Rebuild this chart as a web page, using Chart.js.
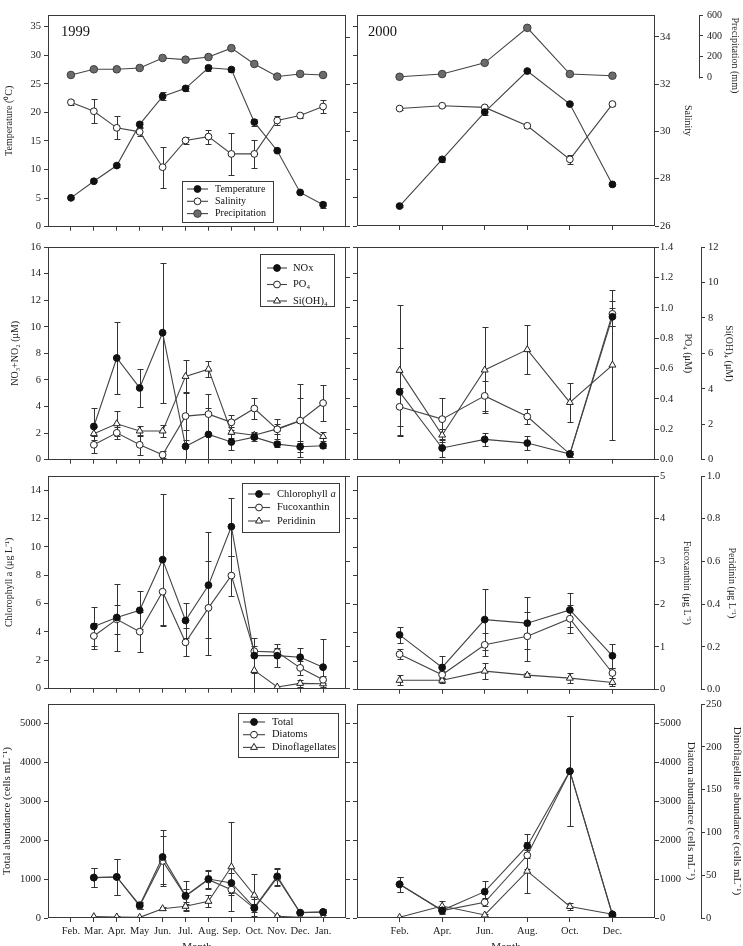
<!DOCTYPE html>
<html>
<head>
<meta charset="utf-8">
<script src="https://cdn.jsdelivr.net/npm/chart.js@4.4.0/dist/chart.umd.min.js"></script>
<style>
  body { margin: 0; background: #fff; overflow: hidden; width: 743px; height: 946px; position: relative; }
  canvas { position: absolute; }
</style>
</head>
<body>
<canvas id="c1l" width="352" height="231" style="left:0;top:5px"></canvas>
<canvas id="c1r" width="391" height="231" style="left:352px;top:5px"></canvas>
<canvas id="c2l" width="352" height="232" style="left:0;top:237px"></canvas>
<canvas id="c2r" width="391" height="232" style="left:352px;top:237px"></canvas>
<canvas id="c3l" width="352" height="232" style="left:0;top:466px"></canvas>
<canvas id="c3r" width="391" height="232" style="left:352px;top:466px"></canvas>
<canvas id="c4l" width="352" height="260" style="left:0;top:694px"></canvas>
<canvas id="c4r" width="391" height="260" style="left:352px;top:694px"></canvas>
<script>
// months sampled
const months1999 = ['Feb.', 'Mar.', 'Apr.', 'May', 'Jun.', 'Jul.', 'Aug.', 'Sep.', 'Oct.', 'Nov.', 'Dec.', 'Jan.'];
const months2000 = ['Feb.', 'Apr.', 'Jun.', 'Aug.', 'Oct.', 'Dec.'];

// temperature (C), salinity, precipitation (mm)
const temp1999 = [5.05, 7.95, 10.7, 17.9, 22.8, 24.2, 27.8, 27.5, 18.3, 13.3, 6.0, 3.85];
const temp1999Err = [0.2, 0.2, 0.3, 0.5, 0.7, 0.4, 0.5, 0.4, 0.6, 0.3, 0.3, 0.5];
const sal1999 = [31.25, 30.87, 30.17, 30.0, 28.51, 29.64, 29.8, 29.07, 29.07, 30.48, 30.69, 31.07];
const sal1999Err = [0.1, 0.5, 0.49, 0.17, 0.87, 0.14, 0.3, 0.9, 0.58, 0.2, 0.1, 0.28];
const prec1999 = [28, 82, 82, 95, 190, 174, 199, 284, 133, 13, 38, 28];

const temp2000 = [3.5, 11.7, 20.0, 27.2, 21.4, 7.3];
const temp2000Err = [0.2, 0.4, 0.5, 0.3, 0.2, 0.3];
const sal2000 = [30.97, 31.09, 31.02, 30.24, 28.82, 31.16];
const sal2000Err = [0.04, 0.05, 0.06, 0.08, 0.2, 0.1];
const prec2000 = [9, 35, 142, 477, 35, 19];

// nutrients (uM)
const nox1999 = [null, 2.5, 7.65, 5.4, 9.55, 1.0, 1.9, 1.33, 1.7, 1.17, 0.97, 1.05];
const nox1999Err = [null, 1.38, 2.7, 1.43, 5.25, 1.2, 2.0, 0.6, 0.3, 0.2, 0.4, 0.2];
const po41999 = [null, 0.098, 0.177, 0.098, 0.032, 0.287, 0.3, 0.246, 0.337, 0.2, 0.257, 0.373];
const po41999Err = [null, 0.055, 0.04, 0.065, 0.022, 0.16, 0.13, 0.05, 0.07, 0.065, 0.15, 0.12];
const si1999 = [null, 1.47, 2.03, 1.62, 1.62, 4.7, 5.11, 1.55, 1.38, 1.74, 2.2, 1.31];
const si1999Err = [null, 0.35, 0.7, 0.28, 0.34, 0.92, 0.45, 0.3, 0.2, 0.3, 2.06, 0.24];

const nox2000 = [5.1, 0.88, 1.53, 1.25, 0.43, 10.75];
const nox2000Err = [3.3, 0.67, 0.48, 0.5, 0.2, 0.68];
const po42000 = [0.348, 0.267, 0.42, 0.284, 0.037, 0.96];
const po42000Err = [0.127, 0.14, 0.1, 0.05, 0.02, 0.083];
const si2000 = [5.04, 1.39, 5.06, 6.21, 3.23, 5.34];
const si2000Err = [3.66, 0.37, 2.4, 1.39, 1.09, 4.24];

// pigments (ug/L)
const chl1999 = [null, 4.39, 5.02, 5.53, 9.1, 4.81, 7.3, 11.43, 2.33, 2.33, 2.22, 1.52];
const chl1999Err = [null, 1.4, 2.33, 1.35, 4.62, 1.21, 3.73, 2.05, 1.24, 0.82, 0.65, 1.96];
const fuco1999 = [null, 1.24, 1.63, 1.34, 2.28, 1.09, 1.9, 2.66, 0.88, 0.86, 0.49, 0.21];
const fuco1999Err = [null, 0.31, 0.34, 0.47, 0.8, 0.33, 1.11, 0.47, 0.12, 0.09, 0.16, 0.08];
const peri1999 = [null, null, null, null, null, null, null, null, 0.086, 0.008, 0.025, 0.023];
const peri1999Err = [null, null, null, null, null, null, null, null, 0.086, 0.005, 0.016, 0.016];

const chl2000 = [3.85, 1.56, 4.92, 4.67, 5.6, 2.38];
const chl2000Err = [0.54, 0.82, 2.12, 1.82, 1.21, 0.84];
const fuco2000 = [0.83, 0.35, 1.05, 1.25, 1.66, 0.39];
const fuco2000Err = [0.12, 0.08, 0.27, 0.57, 0.33, 0.12];
const peri2000 = [0.044, 0.044, 0.087, 0.068, 0.054, 0.034];
const peri2000Err = [0.023, 0.012, 0.037, 0.01, 0.023, 0.019];

// abundance (cells/mL)
const tot1999 = [null, 1038, 1055, 330, 1569, 575, 1003, 900, 266, 1072, 137, 154];
const tot1999Err = [null, 249, 472, 86, 686, 386, 232, 250, 214, 214, 43, 69];
const dia1999 = [null, 1038, 1055, 309, 1466, 557, 986, 729, 249, 1038, 137, 154];
const dia1999Err = [null, 249, 472, 86, 643, 200, 232, 150, 100, 214, 43, 69];
const din1999 = [null, 1.56, 1.17, 0.78, 10.9, 13.7, 19.5, 59.8, 26.6, 1.95, 0.78, 0.78];
const din1999Err = [null, 1, 1, 0.5, 2, 4.7, 7, 52, 25, 1, 0.5, 0.5];

const tot2000 = [866, 197, 677, 1852, 3773, 94];
const tot2000Err = [189, 86, 274, 317, 1415, 69];
const dia2000 = [866, 190, 403, 1612, 3773, 77];
const dia2000Err = [189, 60, 100, 343, 1415, 50];
const din2000 = [0.8, 14, 3.5, 54.7, 13.5, 4.3];
const din2000Err = [0.5, 5.5, 1, 25, 4, 1];

const SERIF = '"Liberation Serif", "Times New Roman", serif';
const INK = '#3a3a3a';
Chart.defaults.font.family = SERIF;
Chart.defaults.font.size = 10.5;
Chart.defaults.color = '#222';

const MARK = {
  black: { pointStyle: 'circle', pointRadius: 3.4, pointBackgroundColor: '#111', pointBorderColor: '#111' },
  white: { pointStyle: 'circle', pointRadius: 3.4, pointBackgroundColor: '#fff', pointBorderColor: '#222' },
  grey: { pointStyle: 'circle', pointRadius: 3.8, pointBackgroundColor: '#6b6b6b', pointBorderColor: '#3d3d3d' },
  tri: { pointStyle: 'triangle', pointRadius: 4, pointBackgroundColor: '#fff', pointBorderColor: '#222' }
};

function line(label, values, errors, mark, axis) {
  return Object.assign({
    label, yAxisID: axis, errors,
    data: values.map((v, i) => ({ x: i, y: v })),
    borderColor: '#444', borderWidth: 1.1, pointBorderWidth: 1, tension: 0
  }, MARK[mark]);
}

function xAx(labels, bottom) {
  return {
    type: 'linear', min: -1, max: labels.length,
    afterBuildTicks: s => { s.ticks = labels.map((_, i) => ({ value: i })); },
    afterFit: s => { s.height = bottom ? 36 : 8; },
    ticks: { display: bottom, autoSkip: false, maxRotation: 0, padding: 3, font: { size: 10.5 }, callback: v => labels[v] },
    grid: { drawOnChartArea: false, tickLength: 4, color: INK },
    border: { display: false },
    title: { display: bottom, text: 'Month', padding: 0, font: { size: 11 } }
  };
}

// tick values: explicit list, or multiples of step inside [min, max]
function tickList(o) {
  if (o.only) return o.only;
  const out = [];
  for (let k = Math.ceil(o.min / o.step); k * o.step <= o.max + 1e-9; k++) out.push(+(k * o.step).toFixed(6));
  return out;
}

function yAx(o) {
  const cfg = {
    type: 'linear', position: o.pos, min: o.min, max: o.max, display: !o.hidden,
    ticks: {
      display: !!o.labels, padding: o.tickPad ?? 3,
      font: { size: o.size || 10.5 }, callback: v => Number(v).toFixed(o.dec || 0)
    },
    grid: { drawOnChartArea: false, tickLength: 4, color: INK },
    border: { display: !!o.axisLine, color: INK, width: 1 },
    title: o.title
      ? { display: true, text: o.title, font: { size: o.tsize || 10 }, padding: { top: o.tpad || 0, bottom: 0 } }
      : { display: false }
  };
  if (!o.hidden) {
    cfg.afterFit = s => { s.width = o.w; };
    cfg.afterBuildTicks = s => { s.ticks = tickList(o).map(v => ({ value: v })); };
  }
  return cfg;
}

const frame = {
  id: 'frame',
  afterDraw(chart) {
    const { ctx, chartArea: a } = chart;
    ctx.save();
    ctx.strokeStyle = INK;
    ctx.lineWidth = 1;
    ctx.strokeRect(Math.round(a.left) + 0.5, Math.round(a.top) + 0.5,
      Math.round(a.right - a.left) - 1, Math.round(a.bottom - a.top) - 1);
    ctx.restore();
  }
};

const errorBars = {
  id: 'errorBars',
  beforeDatasetsDraw(chart) {
    const { ctx, chartArea: a } = chart;
    ctx.save();
    ctx.beginPath();
    ctx.rect(a.left, a.top, a.right - a.left, a.bottom - a.top);
    ctx.clip();
    ctx.strokeStyle = '#333';
    ctx.lineWidth = 1;
    chart.data.datasets.forEach((ds, di) => {
      if (!ds.errors) return;
      const meta = chart.getDatasetMeta(di);
      const ys = chart.scales[ds.yAxisID];
      ds.data.forEach((p, i) => {
        const e = ds.errors[i];
        if (p.y == null || !e) return;
        const x = Math.round(meta.data[i].x) + 0.5;
        const y1 = Math.round(ys.getPixelForValue(p.y + e)) + 0.5;
        const y2 = Math.round(ys.getPixelForValue(p.y - e)) + 0.5;
        ctx.beginPath();
        ctx.moveTo(x, y1); ctx.lineTo(x, y2);
        ctx.moveTo(x - 3, y1); ctx.lineTo(x + 3, y1);
        ctx.moveTo(x - 3, y2); ctx.lineTo(x + 3, y2);
        ctx.stroke();
      });
    });
    ctx.restore();
  }
};

function drawMark(ctx, ds, x, y) {
  const r = ds.pointRadius;
  ctx.fillStyle = ds.pointBackgroundColor;
  ctx.strokeStyle = ds.pointBorderColor;
  ctx.lineWidth = 1;
  ctx.beginPath();
  if (ds.pointStyle === 'triangle') {
    for (let k = 0; k < 3; k++) {
      const ang = k * 2 * Math.PI / 3;
      const px = x + Math.sin(ang) * r, py = y - Math.cos(ang) * r;
      if (k) ctx.lineTo(px, py); else ctx.moveTo(px, py);
    }
    ctx.closePath();
  } else {
    ctx.arc(x, y, r, 0, 2 * Math.PI);
  }
  ctx.fill();
  ctx.stroke();
}

function drawLegend(chart, L) {
  const { ctx, chartArea: a } = chart;
  const x0 = a.left, y0 = a.top;
  ctx.strokeStyle = INK;
  ctx.lineWidth = 1;
  ctx.strokeRect(Math.round(x0 + L.box[0]) + 0.5, Math.round(y0 + L.box[1]) + 0.5, L.box[2], L.box[3]);
  ctx.textBaseline = 'middle';
  ctx.textAlign = 'left';
  chart.data.datasets.forEach((ds, i) => {
    const y = y0 + L.row + i * L.gap;
    ctx.strokeStyle = '#444';
    ctx.lineWidth = 1.1;
    ctx.beginPath();
    ctx.moveTo(x0 + L.line[0], y);
    ctx.lineTo(x0 + L.line[1], y);
    ctx.stroke();
    drawMark(ctx, ds, x0 + (L.line[0] + L.line[1]) / 2, y);
    ctx.fillStyle = '#111';
    ctx.font = `${L.size}px ${SERIF}`;
    const m = ds.label.match(/^(.*) (a)$/);
    if (m) {
      ctx.fillText(m[1] + ' ', x0 + L.text, y);
      const w = ctx.measureText(m[1] + ' ').width;
      ctx.font = `italic ${L.size}px ${SERIF}`;
      ctx.fillText(m[2], x0 + L.text + w, y);
    } else {
      ctx.fillText(ds.label, x0 + L.text, y);
    }
  });
}

function decor(cfg) {
  return {
    id: 'decor',
    afterDraw(chart) {
      const { ctx, chartArea: a } = chart;
      ctx.save();
      if (cfg.year) {
        ctx.font = `14.5px ${SERIF}`;
        ctx.fillStyle = '#111';
        ctx.textBaseline = 'middle';
        ctx.fillText(cfg.year, a.left + cfg.yearDx, a.top + 17);
      }
      if (cfg.legend) drawLegend(chart, cfg.legend);
      if (cfg.precip) {
        const s = chart.scales.pre;
        const yA = s.getPixelForValue(0), yB = s.getPixelForValue(600);
        const x = Math.round(s.left) + 0.5;
        ctx.strokeStyle = INK;
        ctx.lineWidth = 1;
        ctx.beginPath();
        ctx.moveTo(x, Math.round(yA) + 0.5);
        ctx.lineTo(x, Math.round(yB) + 0.5);
        ctx.stroke();
        ctx.translate(s.right - 8, (yA + yB) / 2 + 9);
        ctx.rotate(Math.PI / 2);
        ctx.font = `10px ${SERIF}`;
        ctx.textAlign = 'center';
        ctx.textBaseline = 'middle';
        ctx.fillStyle = '#222';
        ctx.fillText('Precipitation (mm)', 0, 0);
      }
      ctx.restore();
    }
  };
}

function panel(id, labels, datasets, scales, bottom, cfg) {
  return new Chart(document.getElementById(id), {
    type: 'line',
    data: { datasets },
    options: {
      responsive: false,
      animation: false,
      events: [],
      layout: { padding: { top: 10 } },
      plugins: { legend: { display: false }, tooltip: { enabled: false } },
      scales: Object.assign({ x: xAx(labels, bottom) }, scales)
    },
    plugins: [errorBars, frame, decor(cfg || {})]
  });
}

// row 1: temperature, salinity, precipitation
panel('c1l', months1999, [
  line('Temperature', temp1999, temp1999Err, 'black', 'temp'),
  line('Salinity', sal1999, sal1999Err, 'white', 'sal'),
  line('Precipitation', prec1999, null, 'grey', 'pre')
], {
  temp: yAx({ pos: 'left', min: 0, max: 37.04, step: 5, labels: true, w: 48, title: 'Temperature (\u2070C)', tpad: 3 }),
  sal: yAx({ pos: 'right', min: 26, max: 34.93, step: 2, w: 6 }),
  pre: yAx({ pos: 'right', min: -1419, max: 600, hidden: true })
}, false, {
  year: '1999', yearDx: 13,
  legend: { box: [134, 166, 91, 41], row: 174, gap: 12.3, line: [139, 160], text: 167, size: 10 }
});

panel('c1r', months2000, [
  line('Temperature', temp2000, temp2000Err, 'black', 'temp'),
  line('Salinity', sal2000, sal2000Err, 'white', 'sal'),
  line('Precipitation', prec2000, null, 'grey', 'pre')
], {
  temp: yAx({ pos: 'left', min: 0, max: 37.04, step: 5, w: 5 }),
  sal: yAx({ pos: 'right', min: 26, max: 34.93, step: 2, labels: true, tickPad: 1, w: 44, title: 'Salinity', tpad: 5 }),
  pre: yAx({ pos: 'right', min: -1419, max: 600, only: [0, 200, 400, 600], labels: true, size: 10, tickPad: 4, w: 44 })
}, false, { year: '2000', yearDx: 11, precip: true });

// row 2: nutrients
panel('c2l', months1999, [
  line('NOx', nox1999, nox1999Err, 'black', 'nox'),
  line('PO\u2084', po41999, po41999Err, 'white', 'po4'),
  line('Si(OH)\u2084', si1999, si1999Err, 'tri', 'si')
], {
  nox: yAx({ pos: 'left', min: 0, max: 16, step: 2, labels: true, w: 48, title: 'NO\u2083+NO\u2082 (\u03bcM)', tpad: 9 }),
  po4: yAx({ pos: 'right', min: 0, max: 1.4, step: 0.2, w: 6 }),
  si: yAx({ pos: 'right', min: 0, max: 12, hidden: true })
}, false, {
  legend: { box: [212, 7, 74, 52], row: 21, gap: 16.5, line: [219, 239], text: 245, size: 10.5 }
});

panel('c2r', months2000, [
  line('NOx', nox2000, nox2000Err, 'black', 'nox'),
  line('PO\u2084', po42000, po42000Err, 'white', 'po4'),
  line('Si(OH)\u2084', si2000, si2000Err, 'tri', 'si')
], {
  nox: yAx({ pos: 'left', min: 0, max: 16, step: 2, w: 5 }),
  po4: yAx({ pos: 'right', min: 0, max: 1.4, step: 0.2, dec: 1, labels: true, tickPad: 1, w: 46, title: 'PO\u2084 (\u03bcM)', tpad: 7 }),
  si: yAx({ pos: 'right', min: 0, max: 12, step: 2, labels: true, tickPad: 3, w: 42, title: 'Si(OH)\u2084 (\u03bcM)', tpad: 8, axisLine: true })
}, false);

// row 3: pigments
panel('c3l', months1999, [
  line('Chlorophyll a', chl1999, chl1999Err, 'black', 'chl'),
  line('Fucoxanthin', fuco1999, fuco1999Err, 'white', 'fuco'),
  line('Peridinin', peri1999, peri1999Err, 'tri', 'peri')
], {
  chl: yAx({ pos: 'left', min: 0, max: 15, step: 2, labels: true, w: 48, title: 'Chlorophyll a (\u03bcg L\u207b\u00b9)', tpad: 3 }),
  fuco: yAx({ pos: 'right', min: 0, max: 5, step: 1, w: 6 }),
  peri: yAx({ pos: 'right', min: 0, max: 1, hidden: true })
}, false, {
  legend: { box: [194, 7, 97, 49], row: 18, gap: 13.5, line: [200, 222], text: 229, size: 10.5 }
});

panel('c3r', months2000, [
  line('Chlorophyll a', chl2000, chl2000Err, 'black', 'chl'),
  line('Fucoxanthin', fuco2000, fuco2000Err, 'white', 'fuco'),
  line('Peridinin', peri2000, peri2000Err, 'tri', 'peri')
], {
  chl: yAx({ pos: 'left', min: 0, max: 15, step: 2, w: 5 }),
  fuco: yAx({ pos: 'right', min: 0, max: 5, step: 1, labels: true, tickPad: 1, w: 46, title: 'Fucoxanthin (\u03bcg L\u207b\u00b9)', tpad: 8 }),
  peri: yAx({ pos: 'right', min: 0, max: 1, step: 0.2, dec: 1, labels: true, tickPad: 2, w: 42, title: 'Peridinin (\u03bcg L\u207b\u00b9)', tpad: 5, axisLine: true })
}, false);

// row 4: abundance
panel('c4l', months1999, [
  line('Total', tot1999, tot1999Err, 'black', 'tot'),
  line('Diatoms', dia1999, dia1999Err, 'white', 'dia'),
  line('Dinoflagellates', din1999, din1999Err, 'tri', 'din')
], {
  tot: yAx({ pos: 'left', min: 0, max: 5500, step: 1000, labels: true, w: 48, title: 'Total abundance (cells mL\u207b\u00b9)', tsize: 11, tpad: 1 }),
  dia: yAx({ pos: 'right', min: 0, max: 5500, step: 1000, w: 6 }),
  din: yAx({ pos: 'right', min: 0, max: 250, hidden: true })
}, true, {
  legend: { box: [190, 9, 100, 44], row: 18, gap: 12.7, line: [195, 217], text: 224, size: 10.5 }
});

panel('c4r', months2000, [
  line('Total', tot2000, tot2000Err, 'black', 'tot'),
  line('Diatoms', dia2000, dia2000Err, 'white', 'dia'),
  line('Dinoflagellates', din2000, din2000Err, 'tri', 'din')
], {
  tot: yAx({ pos: 'left', min: 0, max: 5500, step: 1000, w: 5 }),
  dia: yAx({ pos: 'right', min: 0, max: 5500, step: 1000, labels: true, tickPad: 1, w: 46, title: 'Diatom abundance (cells mL\u207b\u00b9)', tsize: 11, tpad: 4 }),
  din: yAx({ pos: 'right', min: 0, max: 250, step: 50, labels: true, tickPad: 1, w: 42, title: 'Dinoflagellate abundance (cells mL\u207b\u00b9)', tsize: 11, tpad: 0, axisLine: true })
}, true);
</script>
</body>
</html>
